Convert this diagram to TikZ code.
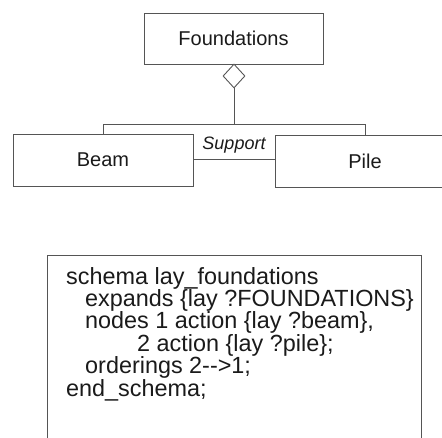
\documentclass[tikz,border=0pt]{standalone}
\usepackage{fontspec}
\setmainfont{Liberation Sans}
\usetikzlibrary{shapes.geometric}
\definecolor{linegray}{HTML}{555555}
\definecolor{textblack}{HTML}{1A1A1A}
\begin{document}
\begin{tikzpicture}[x=1pt,y=-1pt,
  box/.style={draw=linegray, line width=1pt, minimum width=180pt, minimum height=52pt, inner sep=0pt, text=textblack, font=\fontsize{20}{24}\selectfont},
  conn/.style={draw=linegray, line width=1pt},
  agg/.style={shape=diamond, draw=linegray, line width=0.9pt, minimum width=22pt, minimum height=24pt, inner sep=0pt, fill=white}
]
\useasboundingbox (0,0) rectangle (442,437);
\begin{scope}
\clip (0,0) rectangle (442,437);
\node[box, minimum width=179pt, minimum height=51pt] (found) at (233.5,38.5) {Foundations};
\node[agg] (dia) at (234,76) {};
\node[box] (beam) at (103,160) {Beam};
\node[box] (pile) at (365,161) {Pile};
\coordinate (bar) at (234,124);
\coordinate (barl) at (103,124);
\coordinate (barr) at (365,124);
\coordinate (supl) at (193,159);
\coordinate (supr) at (275,159);
\draw[conn] (dia.south) -- (bar);
\draw[conn] (beam.north) -- (barl) -- (barr) -- (pile.north);
\draw[conn] (supl) -- (supr);
\node[font=\fontsize{18}{20}\selectfont\itshape, text=textblack, inner sep=0pt] (sup) at (234,145) {Support};
% code box
\coordinate (cbtl) at (47,255);
\coordinate (cbbr) at (421,460);
\draw[conn] (cbtl) rectangle (cbbr);
\node[anchor=north west, inner sep=0pt, align=left, text=textblack, font=\fontsize{23.4}{22.4}\selectfont] (code) at (66,267) {%
schema lay\_foundations\\
\hspace*{19pt}expands \{lay ?FOUNDATIONS\}\\
\hspace*{19pt}nodes 1 action \{lay ?beam\},\\
\hspace*{71pt}2 action \{lay ?pile\};\\
\hspace*{19pt}orderings 2-{}->1;\\
end\_schema;};
\end{scope}
\end{tikzpicture}
\end{document}
